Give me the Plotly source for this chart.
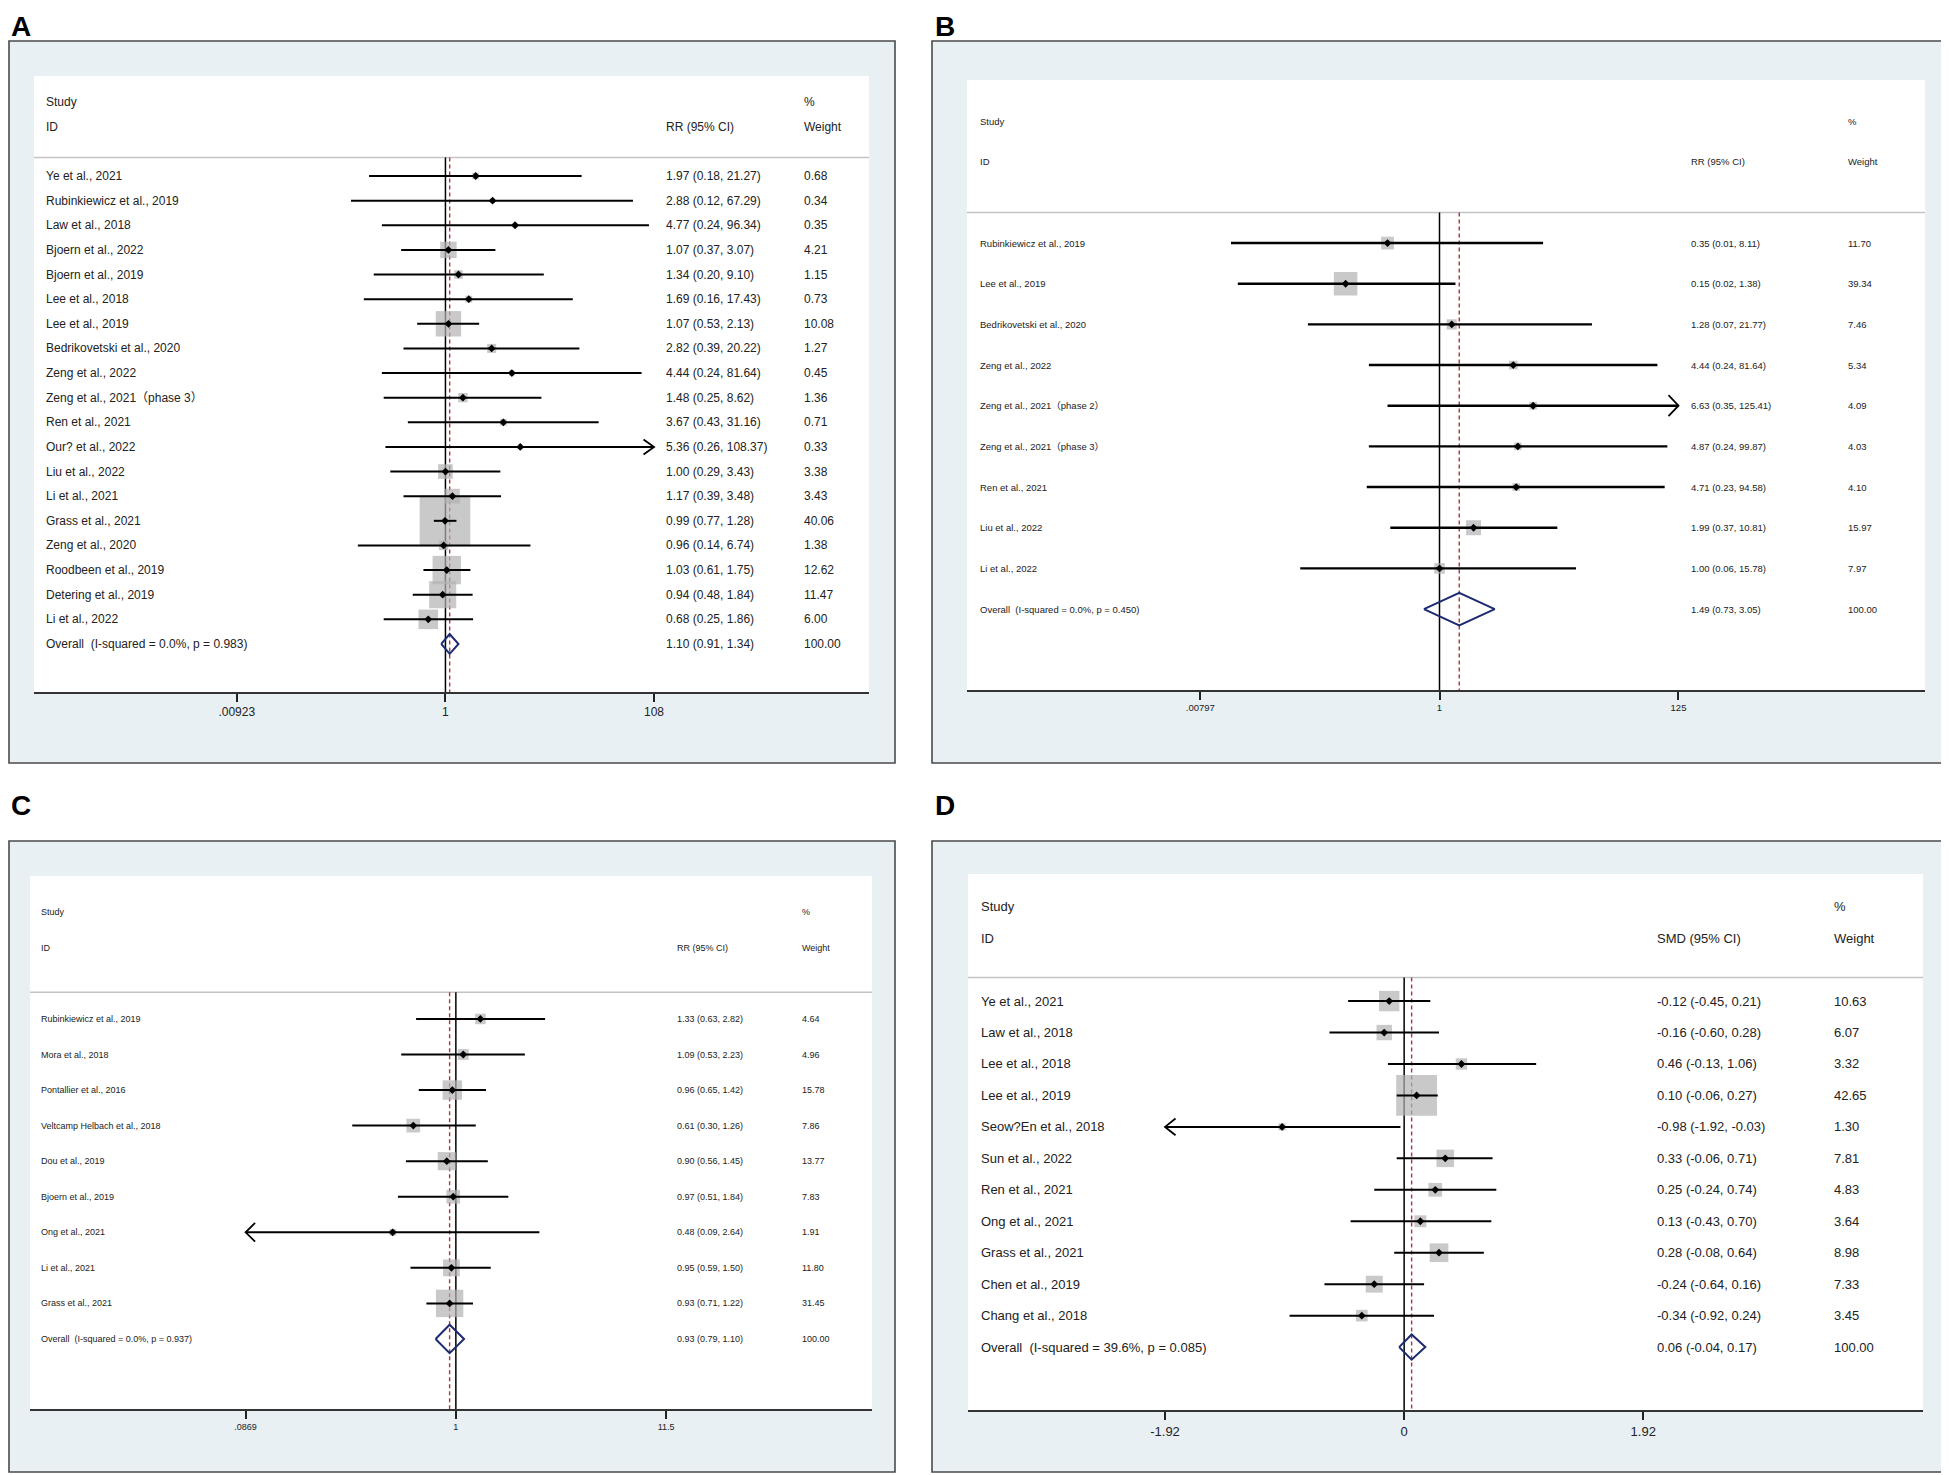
import plotly.graph_objects as go

W, H = 1949, 1475
OFF = 8  # the page body keeps its default 8px margin

# ---- panel A : RR ----
A_STUDY = ["Ye et al., 2021", "Rubinkiewicz et al., 2019", "Law et al., 2018", "Bjoern et al., 2022",
           "Bjoern et al., 2019", "Lee et al., 2018", "Lee et al., 2019", "Bedrikovetski et al., 2020",
           "Zeng et al., 2022", "Zeng et al., 2021（phase 3）", "Ren et al., 2021", "Our? et al., 2022",
           "Liu et al., 2022", "Li et al., 2021", "Grass et al., 2021", "Zeng et al., 2020",
           "Roodbeen et al., 2019", "Detering et al., 2019", "Li et al., 2022"]
A_EST = [1.97, 2.88, 4.77, 1.07, 1.34, 1.69, 1.07, 2.82, 4.44, 1.48, 3.67, 5.36, 1.00, 1.17, 0.99, 0.96, 1.03, 0.94, 0.68]
A_LO = [0.18, 0.12, 0.24, 0.37, 0.20, 0.16, 0.53, 0.39, 0.24, 0.25, 0.43, 0.26, 0.29, 0.39, 0.77, 0.14, 0.61, 0.48, 0.25]
A_HI = [21.27, 67.29, 96.34, 3.07, 9.10, 17.43, 2.13, 20.22, 81.64, 8.62, 31.16, 108.37, 3.43, 3.48, 1.28, 6.74, 1.75, 1.84, 1.86]
A_WT = [0.68, 0.34, 0.35, 4.21, 1.15, 0.73, 10.08, 1.27, 0.45, 1.36, 0.71, 0.33, 3.38, 3.43, 40.06, 1.38, 12.62, 11.47, 6.00]
A_OVERALL = "Overall\u00a0\u00a0(I-squared = 0.0%, p = 0.983)"
A_OV = [1.10, 0.91, 1.34]
A_TICKS = [0.00923, 1, 108]
A_TICKTEXT = [".00923", "1", "108"]

# ---- panel B : RR ----
B_STUDY = ["Rubinkiewicz et al., 2019", "Lee et al., 2019", "Bedrikovetski et al., 2020", "Zeng et al., 2022",
           "Zeng et al., 2021（phase 2）", "Zeng et al., 2021（phase 3）", "Ren et al., 2021",
           "Liu et al., 2022", "Li et al., 2022"]
B_EST = [0.35, 0.15, 1.28, 4.44, 6.63, 4.87, 4.71, 1.99, 1.00]
B_LO = [0.0148, 0.017, 0.07, 0.24, 0.35, 0.24, 0.23, 0.37, 0.06]
B_HI = [8.11, 1.38, 21.77, 81.64, 125.41, 99.87, 94.58, 10.81, 15.78]
B_WT = [11.70, 39.34, 7.46, 5.34, 4.09, 4.03, 4.10, 15.97, 7.97]
B_OVERALL = "Overall\u00a0\u00a0(I-squared = 0.0%, p = 0.450)"
B_OV = [1.49, 0.73, 3.05]
B_TICKS = [0.00797, 1, 125]
B_TICKTEXT = [".00797", "1", "125"]

# ---- panel C : RR ----
C_STUDY = ["Rubinkiewicz et al., 2019", "Mora et al., 2018", "Pontallier et al., 2016",
           "Veltcamp Helbach et al., 2018", "Dou et al., 2019", "Bjoern et al., 2019",
           "Ong et al., 2021", "Li et al., 2021", "Grass et al., 2021"]
C_EST = [1.33, 1.09, 0.96, 0.61, 0.90, 0.97, 0.48, 0.95, 0.93]
C_LO = [0.63, 0.53, 0.65, 0.30, 0.56, 0.51, 0.086, 0.59, 0.71]
C_HI = [2.82, 2.23, 1.42, 1.26, 1.45, 1.84, 2.64, 1.50, 1.22]
C_WT = [4.64, 4.96, 15.78, 7.86, 13.77, 7.83, 1.91, 11.80, 31.45]
C_OVERALL = "Overall\u00a0\u00a0(I-squared = 0.0%, p = 0.937)"
C_OV = [0.93, 0.79, 1.10]
C_TICKS = [0.0869, 1, 11.5]
C_TICKTEXT = [".0869", "1", "11.5"]

# ---- panel D : SMD ----
D_STUDY = ["Ye et al., 2021", "Law et al., 2018", "Lee et al., 2018", "Lee et al., 2019",
           "Seow?En et al., 2018", "Sun et al., 2022", "Ren et al., 2021", "Ong et al., 2021",
           "Grass et al., 2021", "Chen et al., 2019", "Chang et al., 2018"]
D_EST = [-0.12, -0.16, 0.46, 0.10, -0.98, 0.33, 0.25, 0.13, 0.28, -0.24, -0.34]
D_LO = [-0.45, -0.60, -0.13, -0.06, -1.923, -0.06, -0.24, -0.43, -0.08, -0.64, -0.92]
D_HI = [0.21, 0.28, 1.06, 0.27, -0.03, 0.71, 0.74, 0.70, 0.64, 0.16, 0.24]
D_WT = [10.63, 6.07, 3.32, 42.65, 1.30, 7.81, 4.83, 3.64, 8.98, 7.33, 3.45]
D_OVERALL = "Overall\u00a0\u00a0(I-squared = 39.6%, p = 0.085)"
D_OV = [0.06, -0.04, 0.17]
D_TICKS = [-1.92, 0, 1.92]
D_TICKTEXT = ["-1.92", "0", "1.92"]

FONT = "Liberation Sans, Arial, Noto Sans CJK SC, sans-serif"
TXT = "#222222"
PANEL_BG = "#e8f0f4"
BOX = "#b2b2b2"
NAVY = "#1c2a72"
RED = "#b0343c"

# layout of each panel, in pixels of the 1949x1475 picture
PANELS = [
    dict(label="A", lab_xy=(9, 9), outer=(0, 41, 895, 763), inner=(34, 76, 869, 692), log=True,
         xrange=(-4.011, 4.129), yrange=(20.95, -4.06), fs=12, cols=(43.5, 664, 802), eff="RR (95% CI)",
         box_k=8.0, pt=5, lw=2, arrow=(10.5, 7.5), null=1,
         data=(A_STUDY, A_EST, A_LO, A_HI, A_WT, A_OVERALL, A_OV, A_TICKS, A_TICKTEXT)),
    dict(label="B", lab_xy=(933, 9), outer=(932, 41, 1948, 763), inner=(967, 80, 1925, 690), log=True,
         xrange=(-4.146, 4.260), yrange=(10.99, -4.01), fs=9.5, cols=(978, 1689, 1846), eff="RR (95% CI)",
         box_k=3.75, pt=5, lw=2.4, arrow=(10, 10.5), null=1,
         data=(B_STUDY, B_EST, B_LO, B_HI, B_WT, B_OVERALL, B_OV, B_TICKS, B_TICKTEXT)),
    dict(label="C", lab_xy=(9, 788), outer=(0, 841, 895, 1472), inner=(30, 876, 872, 1409), log=True,
         xrange=(-2.149, 2.100), yrange=(10.97, -4.02), fs=9, cols=(39, 675, 800), eff="RR (95% CI)",
         box_k=4.89, pt=5, lw=2, arrow=(9.5, 9.3), null=1,
         data=(C_STUDY, C_EST, C_LO, C_HI, C_WT, C_OVERALL, C_OV, C_TICKS, C_TICKTEXT)),
    dict(label="D", lab_xy=(933, 788), outer=(932, 841, 1948, 1472), inner=(968, 874, 1923, 1410), log=False,
         xrange=(-3.502, 4.166), yrange=(13.0, -4.04), fs=13, cols=(979, 1655, 1832), eff="SMD (95% CI)",
         box_k=6.25, pt=5, lw=2, arrow=(10.5, 8.4), null=0,
         data=(D_STUDY, D_EST, D_LO, D_HI, D_WT, D_OVERALL, D_OV, D_TICKS, D_TICKTEXT)),
]

FW, FH = W - OFF, H - OFF
fig = go.Figure()
shapes, annos = [], []


def px(x):
    return max(x - OFF, 1) / FW


def py(y):
    return 1 - (y - OFF) / FH


for n, p in enumerate(PANELS, start=1):
    study, est, lo, hi, wt, ov_label, ov, ticks, ticktext = p["data"]
    xr, yr = ("x", "y") if n == 1 else (f"x{n}", f"y{n}")
    xl, yt, xrgt, yb = p["inner"]
    fs = p["fs"]

    # backgrounds
    ox0, oy0, ox1, oy1 = p["outer"]
    shapes.append(dict(type="rect", xref="paper", yref="paper", x0=px(ox0), x1=px(ox1), y0=py(oy1), y1=py(oy0),
                       fillcolor=PANEL_BG, line=dict(color="#4a4a4a", width=1.6), layer="below"))
    shapes.append(dict(type="rect", xref="paper", yref="paper", x0=px(xl), x1=px(xrgt), y0=py(yb), y1=py(yt),
                       fillcolor="white", line=dict(width=0), layer="below"))
    # header separator
    shapes.append(dict(type="line", xref="paper", yref=yr, x0=px(xl), x1=px(xrgt), y0=-0.75, y1=-0.75,
                       line=dict(color="#c4c4c4", width=1.6), layer="below"))

    ybot = p["yrange"][0]
    # reference lines
    fig.add_trace(go.Scatter(x=[p["null"], p["null"]], y=[-0.75, ybot], mode="lines", xaxis=xr, yaxis=yr,
                             line=dict(color="black", width=1.5), hoverinfo="skip"))
    fig.add_trace(go.Scatter(x=[ov[0], ov[0]], y=[-0.75, ybot], mode="lines", xaxis=xr, yaxis=yr,
                             line=dict(color=RED, width=1.4, dash="4px,3px"), hoverinfo="skip"))

    rows = list(range(len(study)))
    # weight boxes
    fig.add_trace(go.Scatter(x=est, y=rows, mode="markers", xaxis=xr, yaxis=yr, hoverinfo="skip",
                             marker=dict(symbol="square", color=BOX, line=dict(width=0),
                                         size=[p["box_k"] * w ** 0.5 for w in wt])))

    # confidence intervals, clipped to the axis with arrows
    xmin, xmax = ticks[0], ticks[-1]
    per_px = (p["xrange"][1] - p["xrange"][0]) / (xrgt - xl)
    row_px = (yb - yt) / (p["yrange"][0] - p["yrange"][1])
    back, half = p["arrow"]
    cx, cy, ax, ay = [], [], [], []
    for i in rows:
        a, b = max(lo[i], xmin), min(hi[i], xmax)
        cx += [a, b, None]
        cy += [i, i, None]
        for tip, sgn, cut in ((xmin, -1, lo[i] < xmin), (xmax, 1, hi[i] > xmax)):
            if not cut:
                continue
            if p["log"]:
                bx = tip * 10 ** (-sgn * back * per_px)
            else:
                bx = tip - sgn * back * per_px
            ax += [bx, tip, bx, None]
            ay += [i - half / row_px, i, i + half / row_px, None]
    fig.add_trace(go.Scatter(x=cx, y=cy, mode="lines", xaxis=xr, yaxis=yr, hoverinfo="skip",
                             line=dict(color="black", width=p["lw"])))
    fig.add_trace(go.Scatter(x=ax, y=ay, mode="lines", xaxis=xr, yaxis=yr, hoverinfo="skip",
                             line=dict(color="black", width=1.8)))
    # point estimates
    fig.add_trace(go.Scatter(x=est, y=rows, mode="markers", xaxis=xr, yaxis=yr, hoverinfo="skip",
                             marker=dict(symbol="diamond", color="black", size=p["pt"] + 1)))
    # pooled diamond
    k = len(study)
    fig.add_trace(go.Scatter(x=[ov[1], ov[0], ov[2], ov[0], ov[1]], y=[k, k - 0.4, k, k + 0.4, k],
                             mode="lines", xaxis=xr, yaxis=yr, hoverinfo="skip",
                             line=dict(color=NAVY, width=2)))

    # text columns
    c_name, c_eff, c_wt = p["cols"]
    f = dict(family=FONT, size=fs, color=TXT)

    def txt(x, y, s):
        annos.append(dict(text=s, xref="paper", yref=yr, x=px(x), y=y, xanchor="left", yanchor="middle",
                          showarrow=False, font=f))

    txt(c_name, -3, "Study")
    txt(c_name, -2, "ID")
    txt(c_eff, -2, p["eff"])
    txt(c_wt, -3, "%")
    txt(c_wt, -2, "Weight")
    for i in rows:
        txt(c_name, i, study[i])
        txt(c_eff, i, f"{est[i]:.2f} ({lo[i]:.2f}, {hi[i]:.2f})")
        txt(c_wt, i, f"{wt[i]:.2f}")
    txt(c_name, k, ov_label)
    txt(c_eff, k, f"{ov[0]:.2f} ({ov[1]:.2f}, {ov[2]:.2f})")
    txt(c_wt, k, "100.00")

    # panel letter
    annos.append(dict(text=f"<b>{p['label']}</b>", xref="paper", yref="paper", x=px(p["lab_xy"][0]),
                      y=py(p["lab_xy"][1]), xanchor="left", yanchor="top", showarrow=False,
                      font=dict(family=FONT, size=28, color="black")))

    xa = dict(domain=[px(xl), px(xrgt)], anchor=yr, range=list(p["xrange"]),
              type="log" if p["log"] else "linear", tickvals=ticks, ticktext=ticktext,
              ticks="outside", ticklen=8, tickwidth=1.5, tickcolor="#222", showline=True,
              linecolor="#333", linewidth=2, showgrid=False, zeroline=False, fixedrange=True,
              tickfont=dict(family=FONT, size=fs, color=TXT))
    ya = dict(domain=[py(yb), py(yt)], anchor=xr, range=list(p["yrange"]), visible=False,
              showgrid=False, zeroline=False, fixedrange=True)
    fig.update_layout({("xaxis" if n == 1 else f"xaxis{n}"): xa, ("yaxis" if n == 1 else f"yaxis{n}"): ya})

fig.update_layout(width=FW, height=FH, margin=dict(l=0, r=0, t=0, b=0), showlegend=False,
                  paper_bgcolor="white", plot_bgcolor="rgba(0,0,0,0)",
                  font=dict(family=FONT, color=TXT), shapes=shapes, annotations=annos)

fig.write_html("out.html")
